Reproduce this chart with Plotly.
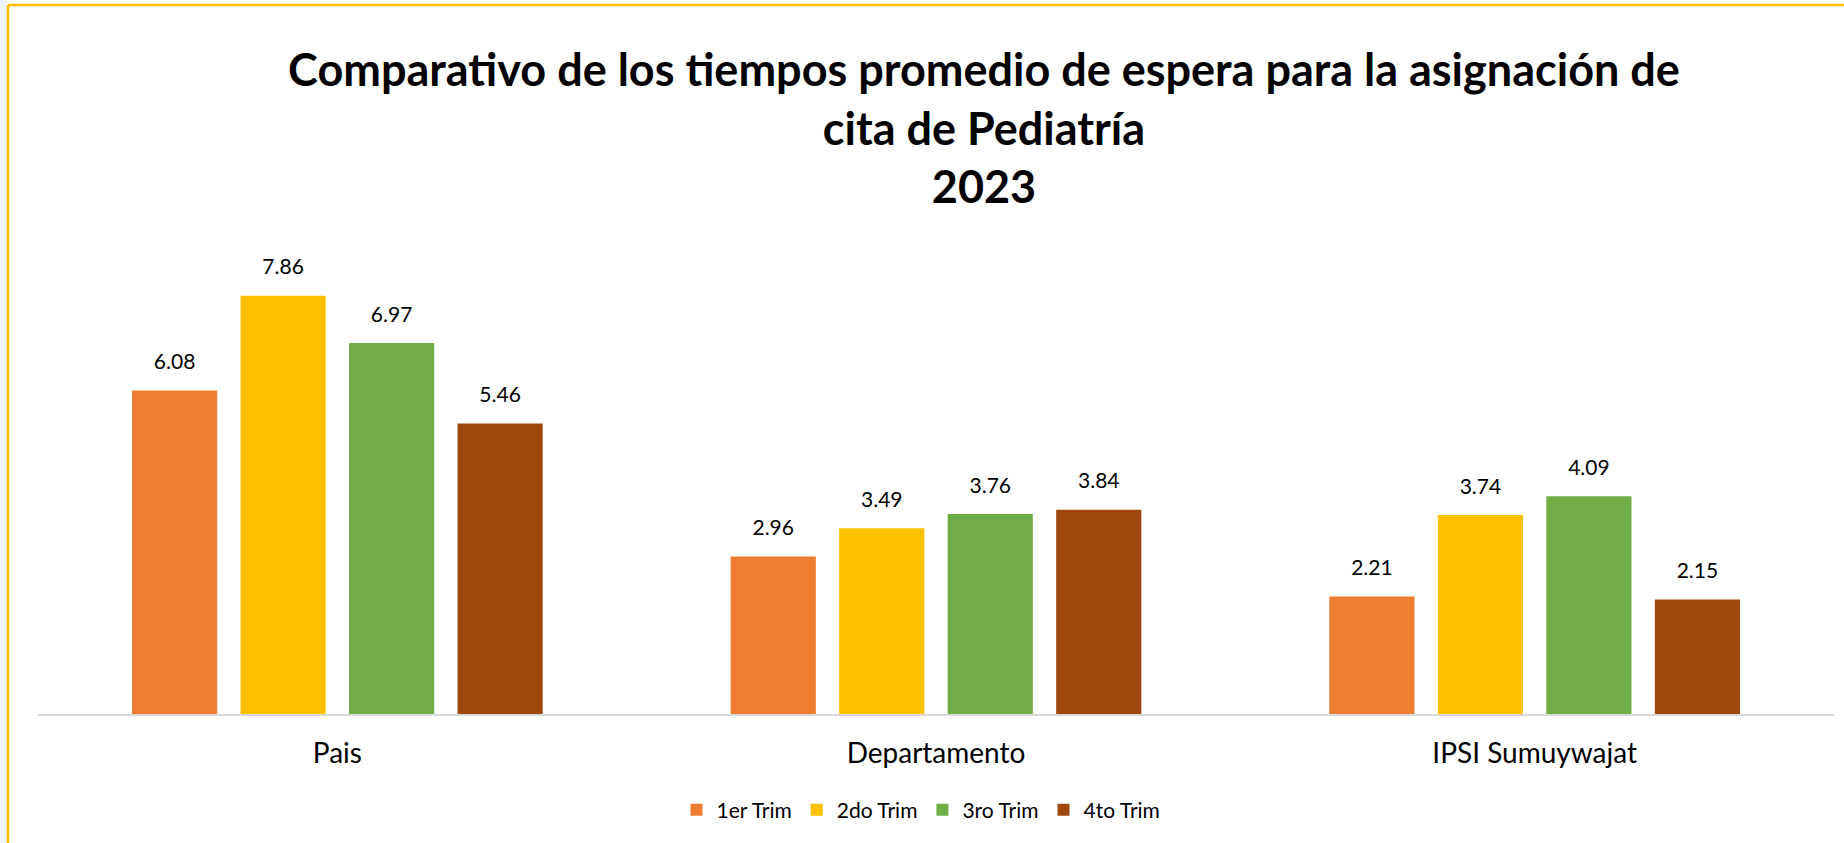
import plotly.graph_objects as go

categories = ["Pais", "Departamento", "IPSI Sumuywajat"]
series_names = ["1er Trim", "2do Trim", "3ro Trim", "4to Trim"]
v_1er = [6.08, 2.96, 2.21]
v_2do = [7.86, 3.49, 3.74]
v_3ro = [6.97, 3.76, 4.09]
v_4to = [5.46, 3.84, 2.15]
colors = ["#ED7D31", "#FFC000", "#70AD47", "#9E480E"]
title_text = ("Comparativo de los tiempos promedio de espera para la asignación de"
              "<br>cita de Pediatría<br>2023")

W, H = 1844, 843
L, R, T, B = 38, 10, 235, 129
PW, PH = W - L - R, H - T - B


def px2x(px):
    return (px - L) / PW


def px2y(py):
    return (H - B - py) / PH


FONT = "Lato"
fig = go.Figure()
all_vals = [v_1er, v_2do, v_3ro, v_4to]
for name, vals, col in zip(series_names, all_vals, colors):
    fig.add_trace(go.Bar(
        x=categories, y=vals, name=name, marker=dict(color=col, line=dict(width=0)),
        offsetgroup=name, hoverinfo="skip",
    ))
for name, vals, col in zip(series_names, all_vals, colors):
    fig.add_trace(go.Scatter(
        x=categories, y=vals, mode="markers+text", text=[f"{v:.2f}" for v in vals],
        textposition="top center", offsetgroup=name, showlegend=False,
        marker=dict(size=24, opacity=0, color=col),
        textfont=dict(family=FONT, size=21, color="#000000"), hoverinfo="skip",
        cliponaxis=False,
    ))

shapes = [
    dict(type="rect", xref="paper", yref="paper", x0=px2x(0), x1=px2x(7), y0=px2y(H), y1=px2y(0),
         fillcolor="#EEF4F9", line=dict(width=0), layer="below"),
    dict(type="line", xref="paper", yref="paper", x0=px2x(8), x1=px2x(W + 5), y0=px2y(5), y1=px2y(5),
         line=dict(color="#FFC000", width=2.5)),
    dict(type="line", xref="paper", yref="paper", x0=px2x(8), x1=px2x(8), y0=px2y(5), y1=px2y(H + 5),
         line=dict(color="#FFC000", width=2.5)),
]

fig.update_layout(
    width=W, height=H,
    margin=dict(l=L, r=R, t=T, b=B, autoexpand=False),
    paper_bgcolor="#FFFFFF", plot_bgcolor="#FFFFFF",
    barmode="group", bargap=0.275, bargroupgap=0.215,
    scattermode="group", scattergap=0.275,
    title=dict(text=title_text, x=984 / W, xanchor="center", xref="container",
               y=1 - 86 / H, yanchor="top", yref="container",
               font=dict(family=FONT, size=45, color="#000000", weight=700)),
    xaxis=dict(showline=True, linecolor="#D9D9D9", linewidth=1.5, ticks="",
               tickfont=dict(family=FONT, size=28, color="#000000"), ticklabelstandoff=14,
               showgrid=False, zeroline=False),
    yaxis=dict(range=[0, 9], visible=False, showgrid=False, zeroline=False),
    legend=dict(orientation="h", x=px2x(921), xanchor="center", y=px2y(810), yanchor="middle",
                font=dict(family=FONT, size=21, color="#000000"), itemwidth=30,
                traceorder="normal", bgcolor="rgba(0,0,0,0)"),
    shapes=shapes,
    showlegend=True,
)

fig.write_html(
    "out.html",
    config={"displayModeBar": False},
    post_script="document.body.style.margin='0px';document.documentElement.style.overflow='hidden';",
)
